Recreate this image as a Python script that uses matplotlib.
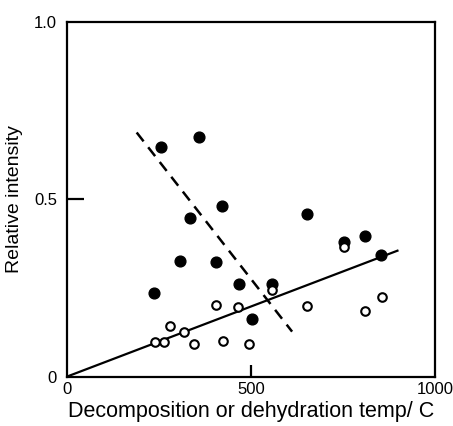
import matplotlib.pyplot as plt

plt.rcParams["font.family"] = ["Liberation Sans", "DejaVu Sans"]

# filled circles
filled_x = [257, 358, 336, 422, 307, 405, 238, 467, 557, 503, 653, 753, 809, 853]
filled_y = [0.648, 0.675, 0.448, 0.481, 0.326, 0.323, 0.235, 0.262, 0.261, 0.163,
            0.457, 0.379, 0.396, 0.343]

# open circles
open_x = [241, 265, 280, 318, 345, 405, 425, 464, 495, 557, 653, 753, 809, 856]
open_y = [0.099, 0.099, 0.142, 0.126, 0.092, 0.202, 0.102, 0.196, 0.091, 0.245,
          0.200, 0.364, 0.184, 0.224]

# fitted lines
solid_x = [0, 898]
solid_y = [0.0, 0.355]
dashed_x = [190, 612]
dashed_y = [0.688, 0.127]

x_ticks = [0, 500, 1000]
x_labels = ["0", "500", "1000"]
y_ticks = [0, 0.5, 1.0]
y_labels = ["0", "0.5", "1.0"]

fig = plt.figure(figsize=(4.53, 4.26), dpi=100)
ax = fig.add_axes([0.1472, 0.1157, 0.8131, 0.8333])

ax.plot(solid_x, solid_y, color="black", lw=1.6, zorder=2)
ax.plot(dashed_x, dashed_y, color="black", lw=1.8, ls=(0, (4.5, 3)), zorder=2)

ax.scatter(filled_x, filled_y, s=60, color="black", zorder=3)
ax.scatter(open_x, open_y, s=38, facecolor="white", edgecolor="black",
           linewidth=1.5, zorder=4)

ax.set_xlim(0, 1000)
ax.set_ylim(0, 1.0)

for s in ax.spines.values():
    s.set_linewidth(1.6)

ax.set_xticks(x_ticks)
ax.set_xticklabels(x_labels, fontsize=12)
ax.set_yticks(y_ticks)
ax.set_yticklabels(y_labels, fontsize=12)
ax.tick_params(axis="x", direction="in", width=1.6, length=9, pad=4)
ax.tick_params(axis="y", direction="in", width=1.6, length=12, pad=7)
# only the middle ticks are drawn
for t in [ax.xaxis.get_major_ticks()[0], ax.xaxis.get_major_ticks()[2],
          ax.yaxis.get_major_ticks()[0], ax.yaxis.get_major_ticks()[2]]:
    t.tick1line.set_visible(False)

ax.set_xlabel("Decomposition or dehydration temp/ C", fontsize=15.5, labelpad=3)
ax.set_ylabel("Relative intensity", fontsize=14, labelpad=8)

fig.savefig("out.png", dpi=100)
